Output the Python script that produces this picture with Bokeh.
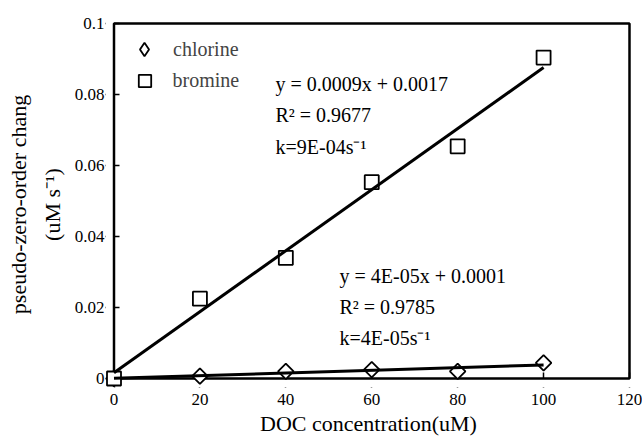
import numpy as np
from math import pi
from bokeh.plotting import figure
from bokeh.models import Range1d, FixedTicker, Label, Legend, LegendItem, BoxAnnotation
from bokeh.embed import file_html
from bokeh.resources import INLINE

# ---- data ----
doc_conc = [0, 20, 40, 60, 80, 100]
chlorine = [0, 0.0007, 0.002, 0.0025, 0.002, 0.0044]
bromine = [0, 0.0225, 0.034, 0.0553, 0.0654, 0.0904]
series_names = ["chlorine", "bromine"]
x_ticks = [0, 20, 40, 60, 80, 100, 120]
y_ticks = [0, 0.02, 0.04, 0.06, 0.08, 0.1]
y_tick_labels = ["0", "0.02", "0.04", "0.06", "0.08", "0.1"]
bromine_fit_text = ["y = 0.0009x + 0.0017", "R² = 0.9677", "k=9E-04s⁻¹"]
chlorine_fit_text = ["y = 4E-05x + 0.0001", "R² = 0.9785", "k=4E-05s⁻¹"]
x_title = "DOC concentration(uM)"
y_title = ["pseudo-zero-order chang", "(uM s⁻¹)"]

FONT = "Liberation Serif"

p = figure(width=642, height=438, output_backend="svg", toolbar_location=None,
           x_range=Range1d(-1.979, 120.466), y_range=Range1d(-0.002528, 0.100562),
           min_border_left=105, min_border_right=11, min_border_top=21, min_border_bottom=50)
p.grid.visible = False
p.outline_line_color = None
p.background_fill_color = "white"
p.border_fill_color = "white"

for ax in (p.xaxis[0], p.yaxis[0]):
    ax.axis_line_color = None
    ax.major_tick_out = 0
    ax.major_tick_line_width = 1.5
    ax.major_tick_line_color = "black"
    ax.minor_tick_line_color = None
    ax.major_label_text_font = FONT
    ax.major_label_text_font_size = "17px"
    ax.major_label_text_color = "black"
    ax.axis_label_text_font = FONT
    ax.axis_label_text_font_size = "22px"
    ax.axis_label_text_font_style = "normal"
    ax.axis_label_text_color = "black"

p.xaxis[0].ticker = FixedTicker(ticks=x_ticks)
p.yaxis[0].ticker = FixedTicker(ticks=y_ticks)
p.yaxis[0].major_label_overrides = dict(zip(y_ticks, y_tick_labels))
p.xaxis[0].major_tick_in = 15
p.yaxis[0].major_tick_in = 14
p.xaxis[0].major_label_standoff = 6
p.yaxis[0].major_label_standoff = 1
p.xaxis[0].axis_label = x_title
p.xaxis[0].axis_label_standoff = 3
p.yaxis[0].axis_label = "\n".join(y_title)
p.yaxis[0].axis_label_standoff = 7
p.yaxis[0].axis_label_text_line_height = 1.35

# white mask outside the plot box (hides tick stubs left of / below the box)
p.add_layout(BoxAnnotation(right=x_ticks[0], fill_color="white", fill_alpha=1, line_color=None))
p.add_layout(BoxAnnotation(top=y_ticks[0], fill_color="white", fill_alpha=1, line_color=None))
# plot box
p.add_layout(BoxAnnotation(left=x_ticks[0], right=x_ticks[-1], bottom=y_ticks[0], top=y_ticks[-1],
                           fill_alpha=0, line_color="black", line_alpha=1, line_width=2.5))

# diamond symbol (used for the legend key; hidden beneath the plotted diamonds)
r_cl_key = p.scatter(doc_conc, chlorine, marker="diamond", size=10,
                     fill_color="white", line_color="black", line_width=1.8)
# markers
r_cl = p.scatter(doc_conc, chlorine, marker="square", angle=pi / 4, size=11,
                 fill_color="white", line_color="black", line_width=1.8, level="overlay")
r_br = p.scatter(doc_conc, bromine, marker="square", size=14,
                 fill_color="white", line_color="black", line_width=1.8, level="overlay")

# linear trendlines (least squares from the data)
xs = np.array([doc_conc[0], doc_conc[-1]], dtype=float)
for ys in (bromine, chlorine):
    m, b = np.polyfit(doc_conc, ys, 1)
    p.line(xs, m * xs + b, line_color="black", line_width=3, level="overlay")

# legends
lg1 = Legend(items=[LegendItem(label=series_names[0], renderers=[r_cl_key])],
             location=(22, 321), glyph_width=34, glyph_height=34, label_height=34,
             label_standoff=12, padding=0, margin=0, border_line_alpha=0,
             background_fill_alpha=0, label_text_font=FONT, label_text_font_size="20px")
lg2 = Legend(items=[LegendItem(label=series_names[1], renderers=[r_br])],
             location=(23.5, 291.5), glyph_width=31, glyph_height=31, label_height=31,
             label_standoff=13, padding=0, margin=0, border_line_alpha=0,
             background_fill_alpha=0, label_text_font=FONT, label_text_font_size="20px")
p.add_layout(lg1)
p.add_layout(lg2)

def lab(text, x, y):
    p.add_layout(Label(x=x, y=y, x_units="screen", y_units="screen", text=text,
                       text_font=FONT, text_font_size="20px", text_color="black",
                       text_align="left", text_baseline="middle"))

for t, yy in zip(bromine_fit_text, [304, 273, 241]):
    lab(t, 170, yy)
for t, yy in zip(chlorine_fit_text, [112, 81, 50]):
    lab(t, 234, yy)

open("out.html", "w").write(file_html(p, INLINE))
